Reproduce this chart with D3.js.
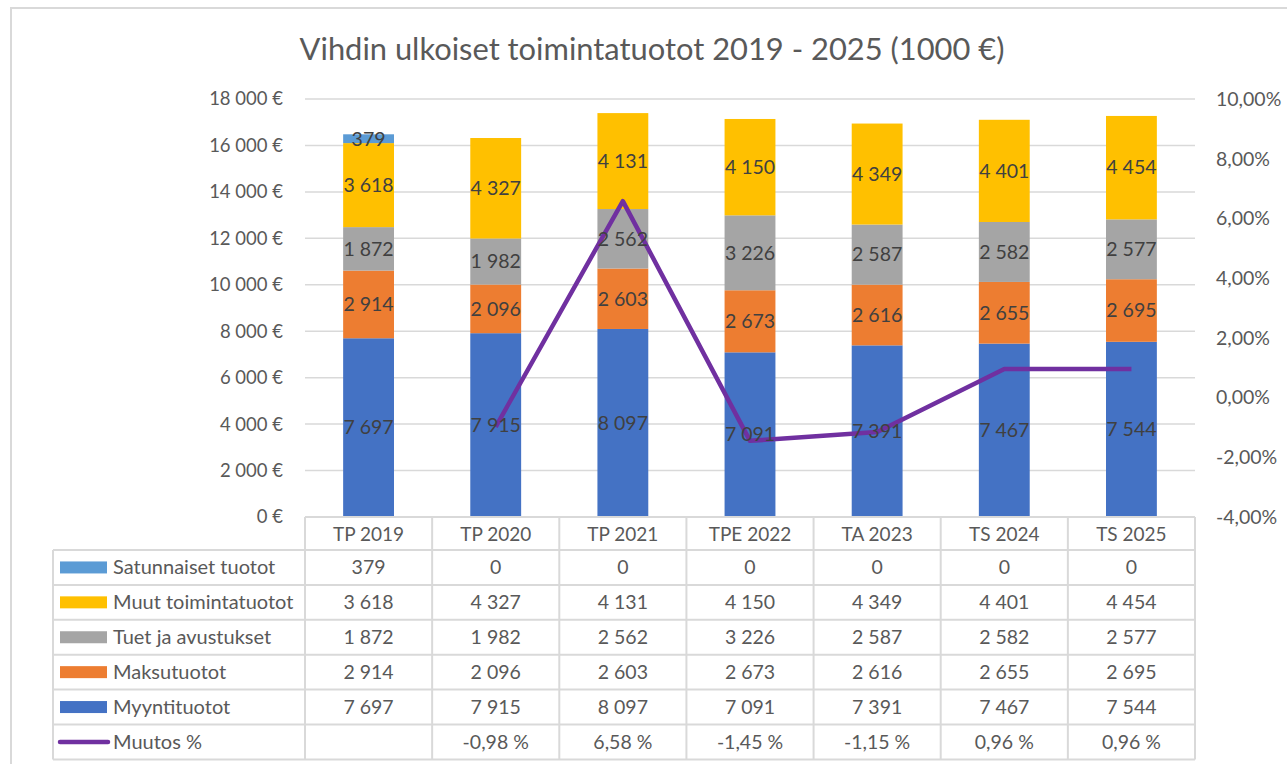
<!DOCTYPE html>
<html>
<head>
<meta charset="utf-8">
<script src="https://cdn.jsdelivr.net/npm/d3@7"></script>
<style>
  body { margin: 0; background: #fff; }
  text { font-family: Lato, "Open Sans", sans-serif; fill: #595959; }
</style>
</head>
<body>
<svg id="chart" width="1287" height="764"></svg>
<script>
// data
let years = ['TP 2019', 'TP 2020', 'TP 2021', 'TPE 2022', 'TA 2023', 'TS 2024', 'TS 2025']
let myyntituotot = [7697, 7915, 8097, 7091, 7391, 7467, 7544]
let maksutuotot = [2914, 2096, 2603, 2673, 2616, 2655, 2695]
let tuet = [1872, 1982, 2562, 3226, 2587, 2582, 2577]
let muut = [3618, 4327, 4131, 4150, 4349, 4401, 4454]
let satunnaiset = [379, 0, 0, 0, 0, 0, 0]
let muutos = [null, -0.98, 6.58, -1.45, -1.15, 0.96, 0.96]
let leftTicks = [0, 2000, 4000, 6000, 8000, 10000, 12000, 14000, 16000, 18000]
let rightTicks = [-4, -2, 0, 2, 4, 6, 8, 10]

let series = [
    {name: 'Myyntituotot', values: myyntituotot, color: '#4472C4'},
    {name: 'Maksutuotot', values: maksutuotot, color: '#ED7D31'},
    {name: 'Tuet ja avustukset', values: tuet, color: '#A5A5A5'},
    {name: 'Muut toimintatuotot', values: muut, color: '#FFC000'},
    {name: 'Satunnaiset tuotot', values: satunnaiset, color: '#5B9BD5'}
]
let lineColor = '#7030A0'

let fi = d3.formatLocale({decimal: ',', thousands: '\u00a0', grouping: [3], currency: ['', '\u00a0€'], minus: '-'})
let fmtNum = fi.format(',d')
let fmtEur = fi.format('$,d')
let fmtPct = d => fi.format('.2f')(d) + '%'
let fmtPctTbl = d => d == null ? '' : fi.format('.2f')(d) + '\u00a0%'

let svg = d3.select('#chart')
let plotLeft = 305, plotRight = 1195, plotTop = 99, plotBottom = 517

// chart frame
svg.append('rect')
    .attr('x', 11).attr('y', 8)
    .attr('width', 1300).attr('height', 800)
    .attr('fill', 'none').attr('stroke', '#d9d9d9').attr('stroke-width', 2)

let x = d3.scaleBand().domain(years).range([plotLeft, plotRight]).paddingInner(0.6).paddingOuter(0.3)
let col = d3.scaleBand().domain(years).range([plotLeft, plotRight])
let y = d3.scaleLinear().domain([0, 18000]).range([plotBottom, plotTop])
let y2 = d3.scaleLinear().domain([-4, 10]).range([plotBottom, plotTop])

// title
let title = svg.append('text')
    .attr('x', 652).attr('y', 60)
    .attr('text-anchor', 'middle')
    .style('font-size', '26px')
    .text('Vihdin ulkoiset toimintatuotot 2019 - 2025 (1000 €)')
let tw = title.node().getComputedTextLength()
title.style('font-size', (26 * 705 / tw) + 'px')

// gridlines
svg.append('g').selectAll('line')
    .data(leftTicks.slice(1))
    .enter().append('line')
    .attr('x1', plotLeft).attr('x2', plotRight)
    .attr('y1', d => y(d)).attr('y2', d => y(d))
    .attr('stroke', '#d9d9d9').attr('stroke-width', 1.5)

// left axis labels
svg.append('g').selectAll('text')
    .data(leftTicks)
    .enter().append('text')
    .attr('x', 283).attr('y', d => y(d))
    .attr('dy', '0.35em')
    .attr('text-anchor', 'end')
    .style('font-size', '18.5px')
    .text(d => fmtEur(d))

// right axis labels
svg.append('g').selectAll('text')
    .data(rightTicks)
    .enter().append('text')
    .attr('x', 1216).attr('y', d => y2(d))
    .attr('dy', '0.35em')
    .style('font-size', '19.5px')
    .text(d => fmtPct(d))

// stacked bars
let rows = years.map((yr, i) => {
    let o = {year: yr}
    series.forEach(s => o[s.name] = s.values[i])
    return o
})
let stacked = d3.stack().keys(series.map(s => s.name))(rows)

let layers = svg.append('g').selectAll('g')
    .data(stacked)
    .enter().append('g')
    .attr('fill', (d, i) => series[i].color)
layers.selectAll('rect')
    .data(d => d)
    .enter().append('rect')
    .attr('x', d => x(d.data.year))
    .attr('width', x.bandwidth())
    .attr('y', d => y(d[1]))
    .attr('height', d => y(d[0]) - y(d[1]))

// line
let linePts = years.map((yr, i) => ({year: yr, v: muutos[i]})).filter(d => d.v != null)
svg.append('path')
    .datum(linePts)
    .attr('fill', 'none')
    .attr('stroke', lineColor)
    .attr('stroke-width', 4.5)
    .attr('stroke-linejoin', 'round')
    .attr('d', d3.line().x(d => x(d.year) + x.bandwidth() / 2).y(d => y2(d.v)))

// bar labels
let labels = svg.append('g')
stacked.forEach(layer => {
    labels.selectAll(null)
        .data(layer.filter(d => d[1] - d[0] > 0))
        .enter().append('text')
        .attr('x', d => x(d.data.year) + x.bandwidth() / 2)
        .attr('y', d => y((d[0] + d[1]) / 2))
        .attr('dy', '0.35em')
        .attr('text-anchor', 'middle')
        .style('font-size', '19.5px')
        .style('fill', '#404040')
        .text(d => fmtNum(d[1] - d[0]))
})

// data table
let rowH = 34.9
let tableTop = plotBottom
let tableRows = series.slice().reverse().concat([{name: 'Muutos %', line: true}])
let tbl = svg.append('g')
let gridColor = '#d9d9d9'

// header row
tbl.selectAll('.hdr')
    .data(years)
    .enter().append('text')
    .attr('class', 'hdr')
    .attr('x', d => col(d) + col.bandwidth() / 2)
    .attr('y', tableTop + 17)
    .attr('dy', '0.35em')
    .attr('text-anchor', 'middle')
    .style('font-size', '19px')
    .text(d => d)

let firstRow = tableTop + 33
let tableBottom = firstRow + rowH * tableRows.length
let legendLeft = 53

// horizontal lines
tbl.append('line')
    .attr('x1', plotLeft).attr('x2', plotRight)
    .attr('y1', tableTop).attr('y2', tableTop)
    .attr('stroke', gridColor).attr('stroke-width', 2)
d3.range(tableRows.length + 1).forEach(i => {
    tbl.append('line')
        .attr('x1', legendLeft).attr('x2', plotRight)
        .attr('y1', firstRow + i * rowH).attr('y2', firstRow + i * rowH)
        .attr('stroke', gridColor).attr('stroke-width', 2)
})
// vertical lines
tbl.append('line')
    .attr('x1', legendLeft).attr('x2', legendLeft)
    .attr('y1', firstRow).attr('y2', tableBottom)
    .attr('stroke', gridColor).attr('stroke-width', 2)
years.concat(['end']).forEach((yr, i) => {
    let xx = i < years.length ? col(yr) : plotRight
    tbl.append('line')
        .attr('x1', xx).attr('x2', xx)
        .attr('y1', tableTop).attr('y2', tableBottom)
        .attr('stroke', gridColor).attr('stroke-width', 2)
})

tableRows.forEach((r, i) => {
    let cy = firstRow + i * rowH + rowH / 2
    if (r.line) {
        tbl.append('line')
            .attr('x1', 60).attr('x2', 108)
            .attr('y1', cy).attr('y2', cy)
            .attr('stroke', lineColor).attr('stroke-width', 4.5)
            .attr('stroke-linecap', 'round')
    } else {
        tbl.append('rect')
            .attr('x', 60).attr('y', cy - 6)
            .attr('width', 47).attr('height', 12)
            .attr('fill', r.color)
    }
    tbl.append('text')
        .attr('x', 113).attr('y', cy)
        .attr('dy', '0.35em')
        .style('font-size', '20px')
        .text(r.name)
    let vals = r.line ? muutos.map(fmtPctTbl) : r.values.map(fmtNum)
    tbl.selectAll(null)
        .data(years)
        .enter().append('text')
        .attr('x', d => col(d) + col.bandwidth() / 2)
        .attr('y', cy)
        .attr('dy', '0.35em')
        .attr('text-anchor', 'middle')
        .style('font-size', '19.5px')
        .text((d, j) => vals[j])
})
</script>
</body>
</html>
